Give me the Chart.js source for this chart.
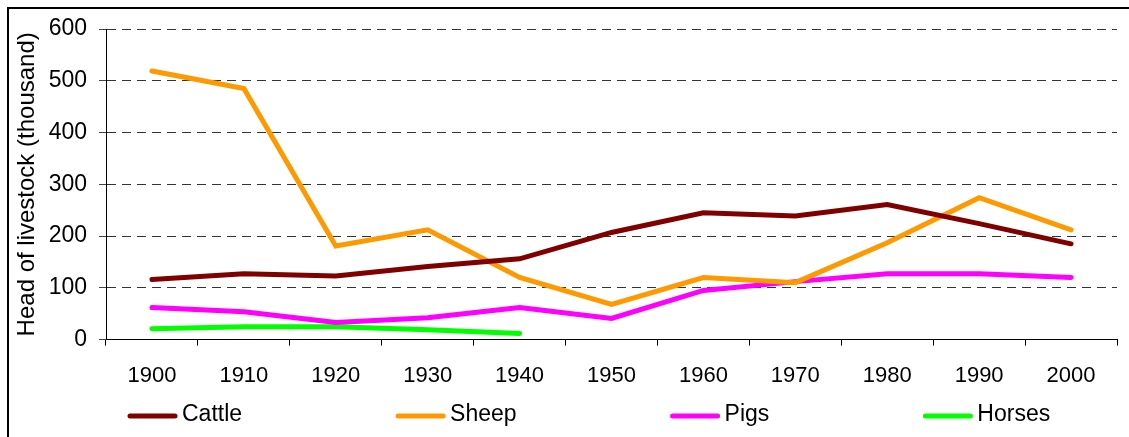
<!DOCTYPE html>
<html>
<head>
<meta charset="utf-8">
<script src="https://cdn.jsdelivr.net/npm/chart.js@4/dist/chart.umd.min.js"></script>
<style>
  html, body { margin: 0; padding: 0; background: #fff; }
  #wrap { width: 1129px; height: 437px; position: relative; }
</style>
</head>
<body>
<div id="wrap"><canvas id="livestockChart"></canvas></div>
<script>
const years = ['1900', '1910', '1920', '1930', '1940', '1950', '1960', '1970', '1980', '1990', '2000'];
const cattle = [116, 127, 123, 141, 156, 207, 245, 239, 261, 224, 185];
const sheep = [519, 485, 181, 212, 120, 68, 120, 110, 187, 274, 212];
const pigs = [62, 54, 33, 42, 62, 41, 95, 112, 127, 127, 120];
const horses = [21, 25, 25, 19, 12, null, null, null, null, null, null];
const yTicks = [0, 100, 200, 300, 400, 500, 600];

const FONT = 'Liberation Sans, Arial, sans-serif';

// frame round the whole picture
const framePlugin = {
    id: 'frame',
    beforeDraw(chart) {
        const ctx = chart.ctx;
        ctx.save();
        ctx.strokeStyle = '#000';
        ctx.lineWidth = 2;
        ctx.strokeRect(8, 8, chart.width + 20, chart.height + 20);
        ctx.restore();
    }
};

// legend drawn by hand so the spacing can match
const legendPlugin = {
    id: 'wideLegend',
    afterDraw(chart) {
        const ctx = chart.ctx;
        ctx.save();
        ctx.font = '23px ' + FONT;
        ctx.textBaseline = 'middle';
        let x = 128;
        const y = 415;
        chart.data.datasets.forEach(ds => {
            ctx.strokeStyle = ds.borderColor;
            ctx.lineWidth = 5;
            ctx.lineCap = 'round';
            ctx.beginPath();
            ctx.moveTo(x + 2, y + 1);
            ctx.lineTo(x + 47, y + 1);
            ctx.stroke();
            ctx.fillStyle = '#000';
            ctx.fillText(ds.label, x + 54, y);
            x += 54 + ctx.measureText(ds.label).width + 154;
        });
        ctx.restore();
    }
};

function line(label, data, color) {
    return {
        label,
        data,
        borderColor: color,
        backgroundColor: color,
        borderWidth: 5,
        pointRadius: 0,
        tension: 0,
        borderCapStyle: 'round',
        borderJoinStyle: 'miter',
        spanGaps: false
    };
}

new Chart(document.getElementById('livestockChart'), {
    type: 'line',
    data: {
        labels: years,
        datasets: [
            line('Cattle', cattle, '#800000'),
            line('Sheep', sheep, '#FF9900'),
            line('Pigs', pigs, '#FF00FF'),
            line('Horses', horses, '#00FF00')
        ]
    },
    options: {
        responsive: true,
        maintainAspectRatio: false,
        animation: false,
        layout: { padding: { top: 29, left: 7, right: 12, bottom: 31 } },
        plugins: {
            legend: { display: false },
            tooltip: { enabled: false }
        },
        scales: {
            x: {
                offset: true,
                grid: {
                    offset: true,
                    drawOnChartArea: false,
                    drawTicks: true,
                    tickLength: 6,
                    color: '#000'
                },
                border: { display: true, color: '#000', width: 1 },
                ticks: {
                    color: '#000',
                    padding: 17,
                    maxRotation: 0,
                    font: { family: FONT, size: 22 }
                }
            },
            y: {
                min: 0,
                max: 600,
                afterBuildTicks(scale) {
                    scale.ticks = yTicks.map(v => ({ value: v }));
                },
                afterFit(scale) {
                    scale.width = 99;
                },
                grid: {
                    color: '#333',
                    tickLength: 7,
                    tickColor: '#444',
                    tickBorderDash: [],
                    tickBorderDashOffset: 0
                },
                border: { display: true, color: '#000', width: 1, dash: [9, 6] },
                ticks: {
                    color: '#000',
                    padding: 12,
                    font: { family: FONT, size: 23 }
                },
                title: {
                    display: true,
                    text: 'Head of livestock (thousand)',
                    color: '#000',
                    padding: { top: 6, bottom: 0 },
                    font: { family: FONT, size: 24 }
                }
            }
        }
    },
    plugins: [framePlugin, legendPlugin]
});
</script>
</body>
</html>
